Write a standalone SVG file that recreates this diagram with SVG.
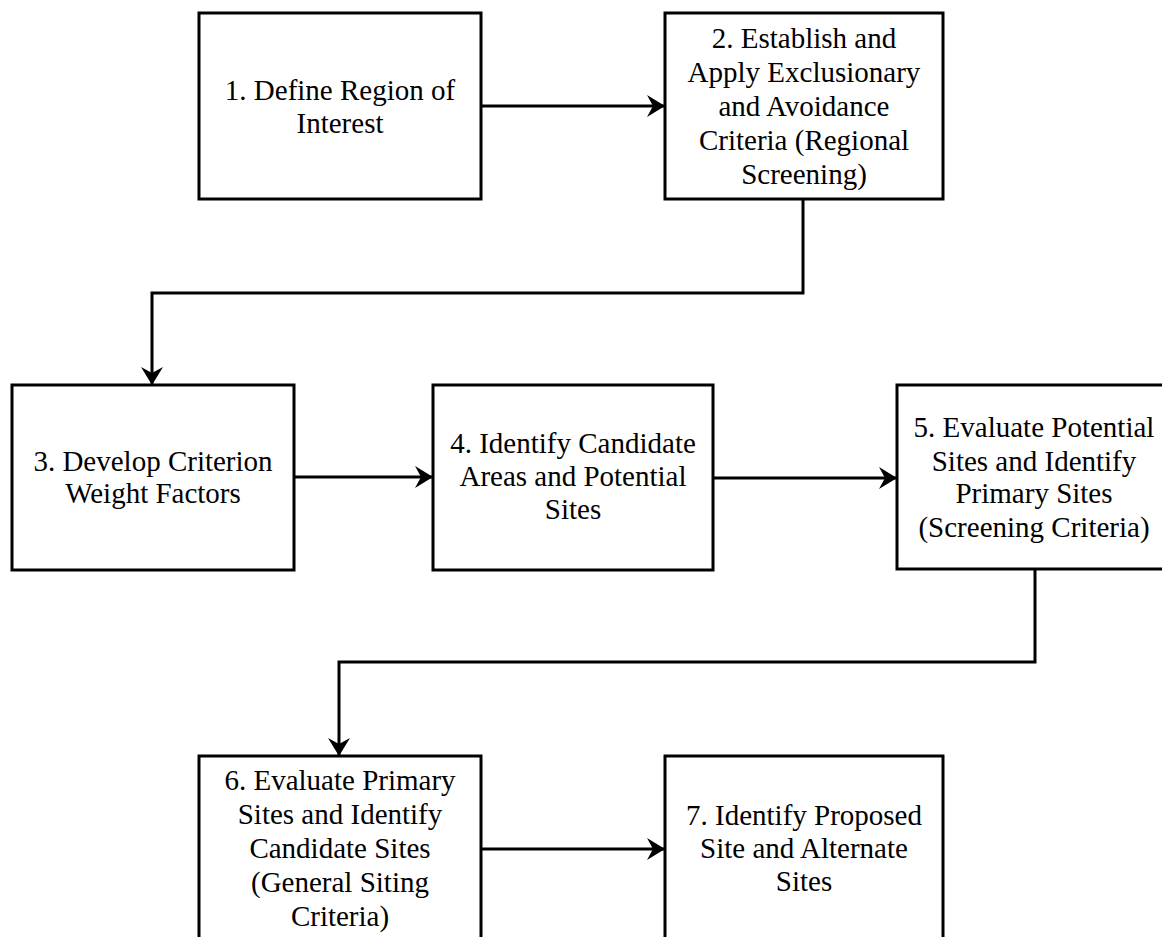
<svg xmlns="http://www.w3.org/2000/svg" width="1162" height="937" viewBox="0 0 1162 937">
<style>
.box{fill:#fff;stroke:#000;stroke-width:3}
.lbl{font-family:"Liberation Serif","Times New Roman",serif;font-size:29px;fill:#000;text-anchor:middle}
.con{fill:none;stroke:#000;stroke-width:3}
</style>
<defs>
<marker id="ah" markerUnits="userSpaceOnUse" viewBox="0 0 18 22" refX="17" refY="11" markerWidth="18" markerHeight="22" orient="auto">
<path d="M0,0 L18,11 L0,22 L6,11 Z" fill="#000"/>
</marker>
</defs>
<rect width="1162" height="937" fill="#fff"/>
<g id="connectors">
<path class="con" d="M481,106 H664" marker-end="url(#ah)"/>
<path class="con" d="M803,199 V293 H152 V384" marker-end="url(#ah)"/>
<path class="con" d="M294,477 H432" marker-end="url(#ah)"/>
<path class="con" d="M713,478 H896" marker-end="url(#ah)"/>
<path class="con" d="M1035,569 V662 H339 V755" marker-end="url(#ah)"/>
<path class="con" d="M481,849 H664" marker-end="url(#ah)"/>
</g>
<g id="node1">
<rect class="box" x="199" y="13" width="282" height="186"/>
<text class="lbl" x="340" y="100">1. Define Region of</text>
<text class="lbl" x="340" y="133">Interest</text>
</g>
<g id="node2">
<rect class="box" x="665" y="13" width="278" height="186"/>
<text class="lbl" x="804" y="48">2. Establish and</text>
<text class="lbl" x="804" y="82">Apply Exclusionary</text>
<text class="lbl" x="804" y="116">and Avoidance</text>
<text class="lbl" x="804" y="150">Criteria (Regional</text>
<text class="lbl" x="804" y="184">Screening)</text>
</g>
<g id="node3">
<rect class="box" x="12" y="385" width="282" height="185"/>
<text class="lbl" x="153" y="471">3. Develop Criterion</text>
<text class="lbl" x="153" y="503">Weight Factors</text>
</g>
<g id="node4">
<rect class="box" x="433" y="385" width="280" height="185"/>
<text class="lbl" x="573" y="453">4. Identify Candidate</text>
<text class="lbl" x="573" y="486">Areas and Potential</text>
<text class="lbl" x="573" y="519">Sites</text>
</g>
<g id="node5">
<rect class="box" x="897" y="385" width="275" height="184"/>
<text class="lbl" x="1034" y="437">5. Evaluate Potential</text>
<text class="lbl" x="1034" y="471">Sites and Identify</text>
<text class="lbl" x="1034" y="503">Primary Sites</text>
<text class="lbl" x="1034" y="537">(Screening Criteria)</text>
</g>
<g id="node6">
<rect class="box" x="199" y="756" width="282" height="200"/>
<text class="lbl" x="340" y="790">6. Evaluate Primary</text>
<text class="lbl" x="340" y="824">Sites and Identify</text>
<text class="lbl" x="340" y="858">Candidate Sites</text>
<text class="lbl" x="340" y="892">(General Siting</text>
<text class="lbl" x="340" y="926">Criteria)</text>
</g>
<g id="node7">
<rect class="box" x="665" y="756" width="278" height="200"/>
<text class="lbl" x="804" y="825">7. Identify Proposed</text>
<text class="lbl" x="804" y="858">Site and Alternate</text>
<text class="lbl" x="804" y="891">Sites</text>
</g>
</svg>
